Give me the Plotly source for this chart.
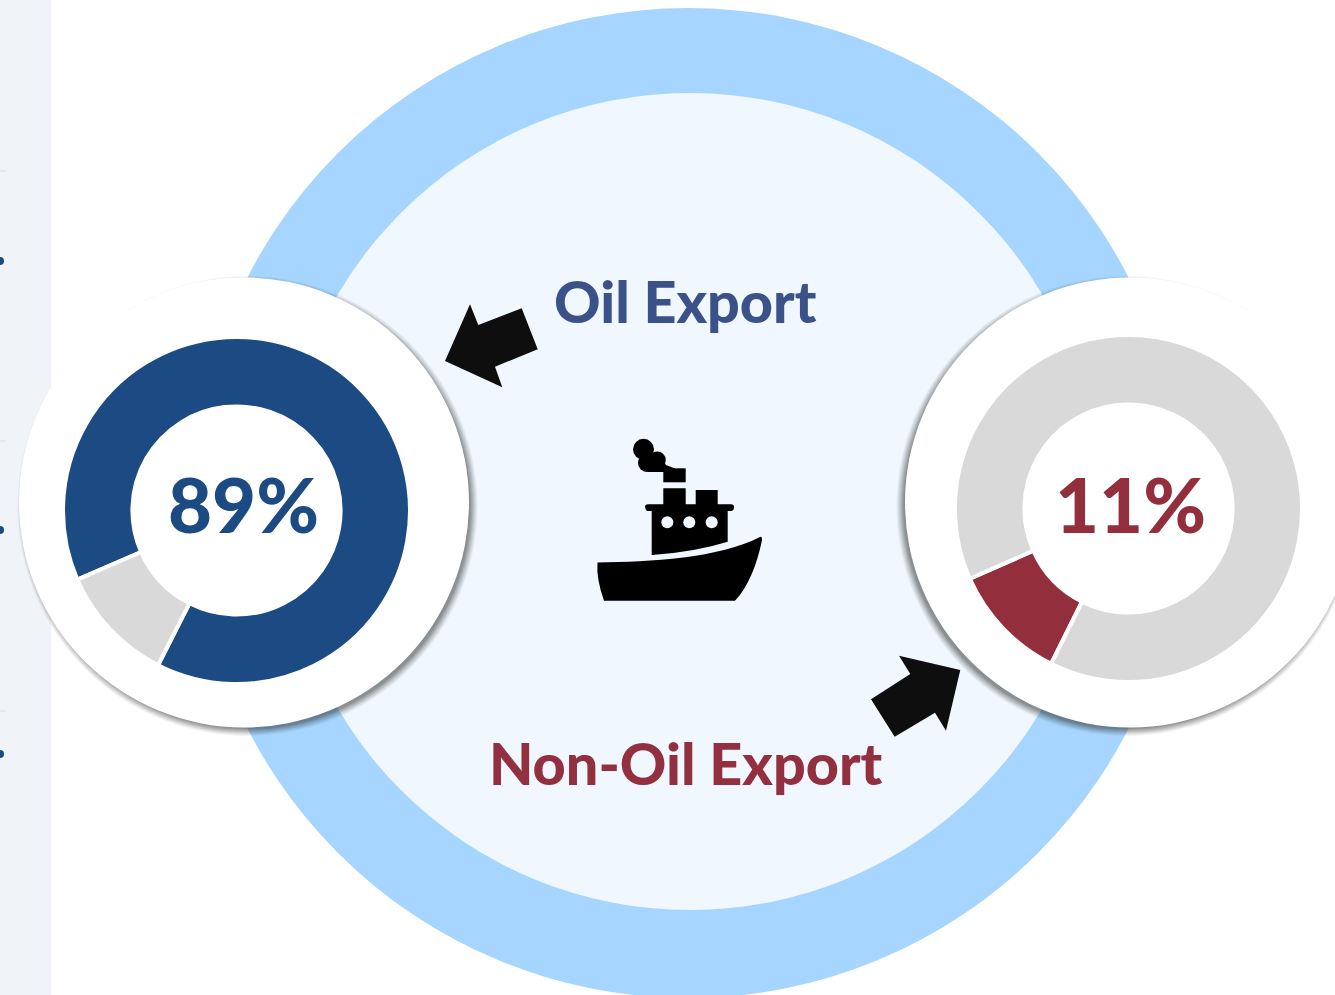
import plotly.graph_objects as go

W, H = 1335, 995

# ---- data ----
categories = ["Oil Export", "Non-Oil Export"]
oil_share = [89, 11]
non_oil_share = [11, 89]
oil_label = "89%"
non_oil_label = "11%"

NAVY = "#1c4a82"
RED = "#932f3c"
GREY = "#d9d9d9"
RING = "#a6d6ff"
DISC = "#f0f7ff"
SIDE = "#f0f4f8"
BLACK = "#0e0e0e"


def circle(cx, cy, r, fill, opacity=1.0, layer="below"):
    return dict(type="circle", xref="x", yref="y", x0=cx - r, x1=cx + r, y0=cy - r, y1=cy + r,
                fillcolor=fill, line=dict(width=0), opacity=opacity, layer=layer)


def rect(x0, y0, x1, y1, fill):
    return dict(type="rect", xref="x", yref="y", x0=x0, x1=x1, y0=y0, y1=y1,
                fillcolor=fill, line=dict(width=0), layer="below")


def path(d, fill, layer="above"):
    return dict(type="path", xref="x", yref="y", path=d, fillcolor=fill, line=dict(width=0), layer=layer)


def poly(points):
    return "M " + " L ".join(f"{a:.1f},{b:.1f}" for a, b in points) + " Z"


shapes = [rect(0, 0, 51, H, SIDE)]
for y in (171, 441, 711):
    shapes.append(rect(0, y - 0.5, 6, y + 0.5, "#dedede"))
for y in (261, 530, 754):
    shapes.append(circle(0, y, 4, NAVY))

shapes.append(circle(688, 503, 495, RING))
shapes.append(circle(690, 501.5, 408.5, DISC))

# soft shadows of the two white plates, then the plates
for r, op in ((230, 0.05), (229, 0.06), (228, 0.07), (227, 0.08), (226, 0.09), (225, 0.10), (224, 0.11), (223, 0.12)):
    shapes.append(circle(247.5, 506, r, "#303030", op))
    shapes.append(circle(1126.5, 506, r, "#303030", op))
shapes.append(circle(244, 502.5, 225, "#ffffff"))
shapes.append(circle(1130, 502.5, 225, "#ffffff"))

# arrows
shapes.append(path(poly([(445, 361), (470, 304.3), (478.3, 325), (521.7, 308.3), (537.7, 349.3), (495, 366.7), (502.3, 387.3)]), BLACK))
shapes.append(path(poly([(960.3, 670), (899, 655.7), (910.3, 674), (871, 699.3), (894.7, 736.7), (935, 712.7), (946, 730.7)]), BLACK))

# ship
S = "#000000"
hull = ("M 597.5,562.5 C 650,562 720,558 760,537 Q 762,536 762,540 "
        "C 757,565 748,587 735,600.7 L 604,600.7 Q 596,578 597.5,562.5 Z")
cabin = ("M 651.7,555 L 651.7,511 L 647,511 Q 645,508.5 645,507 Q 645,504.3 648,504.3 L 663.3,504.3 "
         "L 663.3,488.3 L 685.7,488.3 L 685.7,504.3 L 695.7,504.3 L 695.7,490 L 717.7,490 L 717.7,504.3 "
         "L 731,504.3 Q 734,504.3 734,507 Q 734,511 731,511 L 727.7,511 L 727.7,541.7 Q 695,552 651.7,555 Z")
shapes.append(path(hull, S))
shapes.append(path(cabin, S))
shapes.append(path(poly([(663.3, 468.3), (685.7, 468.3), (685.7, 482.3), (663.3, 482.3)]), S))
shapes.append(path("M 650,452 L 660,455 L 666,465 L 675,468.5 L 675,472 L 648,472 L 641,462 Z", S))
for cx, cy, r in ((643.5, 449.3, 10.5), (657.3, 460, 8.5), (647, 463, 9)):
    shapes.append(circle(cx, cy, r, S, layer="above"))
for cx in (667.3, 689.3, 711.7):
    shapes.append(circle(cx, 522.3, 6, DISC, layer="above"))


def domain(cx, cy, r):
    return dict(x=[(cx - r) / W, (cx + r) / W], y=[1 - (cy + r) / H, 1 - (cy - r) / H])


fig = go.Figure()
# invisible trace so the pixel axes exist
fig.add_trace(go.Scatter(x=[0, W], y=[0, H], mode="markers", marker=dict(opacity=0), hoverinfo="skip", showlegend=False))
fig.add_trace(go.Pie(labels=categories, values=oil_share, hole=0.6, sort=False, direction="clockwise",
                     rotation=246.5, domain=domain(236.5, 510.5, 173.5), textinfo="none", showlegend=False,
                     marker=dict(colors=[NAVY, GREY], line=dict(color="#ffffff", width=4))))
fig.add_trace(go.Pie(labels=categories, values=non_oil_share, hole=0.6, sort=False, direction="clockwise",
                     rotation=206.5, domain=domain(1128.5, 508.5, 173.5), textinfo="none", showlegend=False,
                     marker=dict(colors=[RED, GREY], line=dict(color="#ffffff", width=4))))


def label(x, y, text, color, size):
    return dict(x=x, y=y, xref="x", yref="y", text=text, showarrow=False, xanchor="center",
                yanchor="middle", font=dict(family="Lato", size=size, color=color, weight=900))


annotations = [
    label(243.5, 503, oil_label, NAVY, 76),
    label(1130.5, 503, non_oil_label, RED, 76),
    label(685.5, 300, categories[0], "#3b5289", 57.5),
    label(685.5, 762, categories[1], "#93303f", 57.5),
]

fig.update_layout(
    width=W, height=H, margin=dict(l=0, r=0, t=0, b=0), paper_bgcolor="#ffffff", plot_bgcolor="rgba(0,0,0,0)",
    xaxis=dict(range=[0, W], visible=False, fixedrange=True),
    yaxis=dict(range=[H, 0], visible=False, fixedrange=True),
    shapes=shapes, annotations=annotations, showlegend=False,
)
fig.write_html("out.html", config=dict(displayModeBar=False),
               post_script="document.body.style.margin='0';document.body.style.overflow='hidden';")
